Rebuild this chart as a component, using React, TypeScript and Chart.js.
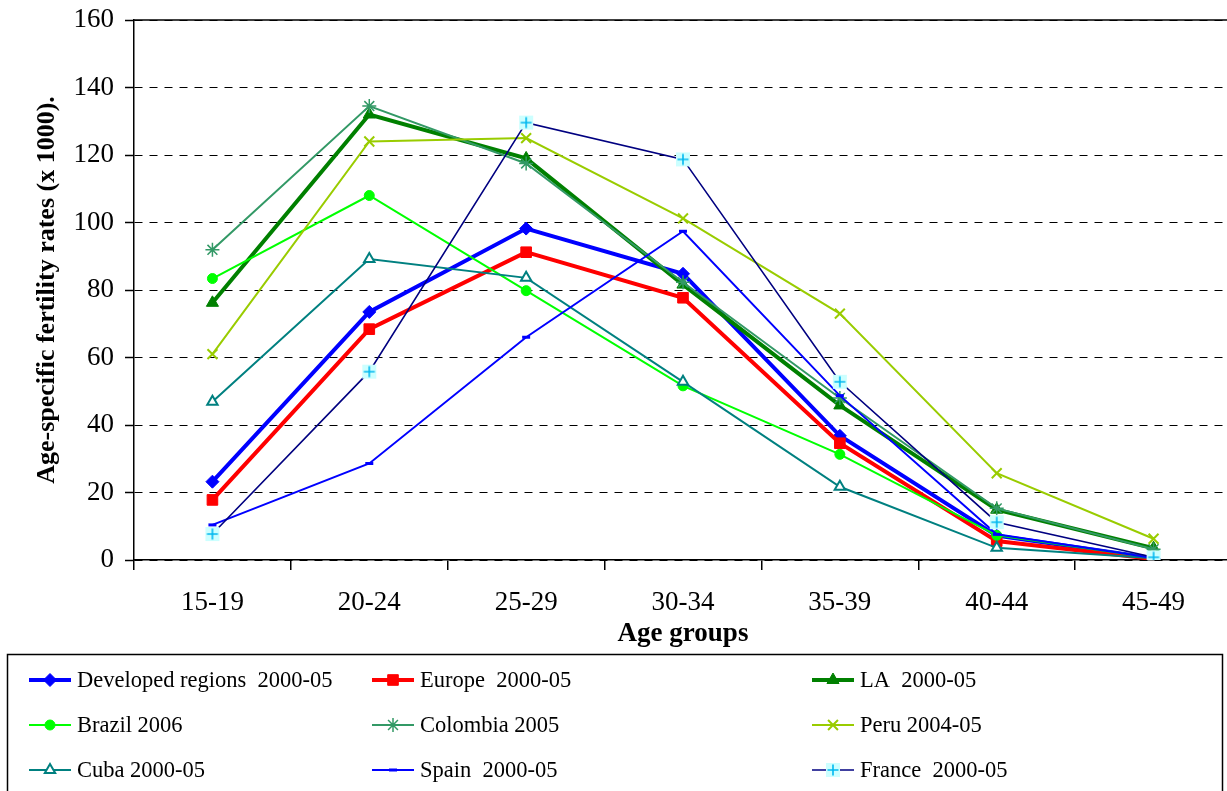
import React, { useEffect, useRef } from 'react';
import { Chart, registerables } from 'chart.js';
import { drawPoint } from 'chart.js/helpers';

Chart.register(...registerables);

const categories = ['15-19', '20-24', '25-29', '30-34', '35-39', '40-44', '45-49'];
const yTicks = [0, 20, 40, 60, 80, 100, 120, 140, 160];

const developed = [23.2, 73.5, 98.2, 84.8, 36.8, 7.2, 0.5];
const europe = [17.8, 68.4, 91.2, 77.7, 34.6, 5.6, 0.3];
const la = [76.2, 132.0, 119.0, 81.6, 45.8, 14.9, 3.5];
const brazil = [83.4, 108.0, 79.8, 51.6, 31.3, 7.3, 0.6];
const colombia = [91.9, 134.5, 117.5, 82.3, 48.0, 15.3, 3.2];
const peru = [61.0, 124.0, 125.0, 101.2, 73.0, 25.7, 6.3];
const cuba = [46.9, 89.2, 83.6, 52.8, 21.7, 3.6, 0.5];
const spain = [10.4, 28.6, 66.0, 97.4, 48.7, 7.6, 0.6];
const france = [7.7, 55.8, 129.6, 118.7, 52.8, 11.2, 0.8];

const seriesLabels = [
  'Developed regions  2000-05',
  'Europe  2000-05',
  'LA  2000-05',
  'Brazil 2006',
  'Colombia 2005',
  'Peru 2004-05',
  'Cuba 2000-05',
  'Spain  2000-05',
  'France  2000-05',
];

const FONT = "'Liberation Serif', 'Times New Roman', serif";

function makeFranceMarker(): HTMLCanvasElement {
  const c = document.createElement('canvas');
  c.width = 16;
  c.height = 16;
  const g = c.getContext('2d')!;
  g.fillStyle = '#CCFFFF';
  g.fillRect(1, 1, 14, 14);
  g.strokeStyle = '#00B8F0';
  g.lineWidth = 1.6;
  g.beginPath();
  g.moveTo(8, 2.5);
  g.lineTo(8, 13.5);
  g.moveTo(2.5, 8);
  g.lineTo(13.5, 8);
  g.stroke();
  return c;
}

export default function App() {
  const ref = useRef<HTMLCanvasElement>(null);

  useEffect(() => {
    if (!ref.current) return;
    const franceMarker = makeFranceMarker();

    const series = [
      { data: developed, color: '#0000FF', width: 4, style: 'rectRot', radius: 6.5, pbw: 1, fill: '#0000FF' },
      { data: europe, color: '#FF0000', width: 4, style: 'rect', radius: 7.5, pbw: 1, fill: '#FF0000' },
      { data: la, color: '#008000', width: 4, style: 'triangle', radius: 7, pbw: 1, fill: '#008000' },
      { data: brazil, color: '#00FF00', width: 2, style: 'circle', radius: 5, pbw: 1, fill: '#00FF00' },
      { data: colombia, color: '#339966', width: 2, style: 'star', radius: 7, pbw: 1.5, fill: '#339966' },
      { data: peru, color: '#99CC00', width: 2, style: 'crossRot', radius: 7, pbw: 2, fill: '#99CC00' },
      { data: cuba, color: '#008080', width: 2, style: 'triangle', radius: 6, pbw: 2, fill: '#FFFFFF' },
      { data: spain, color: '#0000FF', width: 2, style: 'line', radius: 4, pbw: 3, fill: '#0000FF' },
      { data: france, color: '#000080', width: 1.6, style: franceMarker as any, radius: 8, pbw: 1, fill: '#CCFFFF' },
    ];

    const datasets = series.map((s, i) => ({
      label: seriesLabels[i],
      data: s.data,
      borderColor: s.color,
      backgroundColor: s.fill,
      borderWidth: s.width,
      pointStyle: s.style,
      pointRadius: s.radius,
      pointBorderWidth: s.pbw,
      pointBorderColor: s.color,
      pointBackgroundColor: s.fill,
      tension: 0,
      fill: false,
      order: -i,
    }));

    const extras = {
      id: 'extras',
      afterDraw(chart: any) {
        const ctx = chart.ctx as CanvasRenderingContext2D;
        const area = chart.chartArea;
        ctx.save();
        ctx.strokeStyle = '#000';
        ctx.lineWidth = 1.5;
        ctx.beginPath();
        ctx.moveTo(area.left, area.top);
        ctx.lineTo(area.right, area.top);
        ctx.stroke();

        ctx.lineWidth = 1.5;
        ctx.strokeRect(7.5, 654.5, 1215, 200);

        const cols = [29, 372, 812];
        const rows = [680, 725, 770];
        ctx.font = `22.5px ${FONT}`;
        ctx.textBaseline = 'middle';
        ctx.textAlign = 'left';
        series.forEach((s, i) => {
          const x0 = cols[i % 3];
          const y = rows[Math.floor(i / 3)];
          ctx.strokeStyle = s.color;
          ctx.lineWidth = s.width;
          ctx.setLineDash([]);
          ctx.beginPath();
          ctx.moveTo(x0, y);
          ctx.lineTo(x0 + 42, y);
          ctx.stroke();
          ctx.fillStyle = s.fill;
          ctx.strokeStyle = s.color;
          ctx.lineWidth = s.pbw;
          drawPoint(ctx, { pointStyle: s.style, radius: s.radius, borderWidth: s.pbw, rotation: 0 } as any, x0 + 21, y);
          ctx.fillStyle = '#000';
          ctx.fillText(seriesLabels[i], x0 + 48, y + 1);
        });
        ctx.restore();
      },
    };

    const chart = new Chart(ref.current, {
      type: 'line',
      data: { labels: categories, datasets: datasets as any },
      options: {
        animation: false,
        responsive: false,
        devicePixelRatio: 1,
        layout: { padding: { left: 0, top: 20, right: 1, bottom: 141 } },
        plugins: {
          legend: { display: false },
          tooltip: { enabled: false },
        },
        scales: {
          x: {
            offset: true,
            grid: {
              offset: true,
              drawOnChartArea: false,
              drawTicks: true,
              tickLength: 10,
              color: '#000',
              lineWidth: 1.5,
            },
            border: { display: true, color: '#000', width: 1.5 },
            ticks: {
              color: '#000',
              font: { family: FONT, size: 27 },
              padding: 17,
              maxRotation: 0,
            },
            title: {
              display: true,
              text: 'Age groups',
              color: '#000',
              font: { family: FONT, size: 27, weight: 'bold' },
              padding: { top: 0, bottom: 0 },
            },
            afterFit(scale: any) {
              scale.height = 90;
              scale.paddingLeft = 0;
              scale.paddingRight = 0;
            },
          },
          y: {
            min: 0,
            max: 160,
            afterBuildTicks(scale: any) {
              scale.ticks = yTicks.map((v) => ({ value: v }));
            },
            grid: {
              color: '#000',
              lineWidth: 1,
              drawTicks: true,
              tickLength: 9,
              tickColor: '#000',
              tickWidth: 1.5,
            },
            border: { display: true, color: '#000', width: 1.5, dash: [8, 7] },
            ticks: {
              color: '#000',
              font: { family: FONT, size: 27 },
              padding: 11,
            },
            title: {
              display: true,
              text: 'Age-specific fertility rates (x 1000).',
              color: '#000',
              font: { family: FONT, size: 26, weight: 'bold' },
              padding: { top: 32, bottom: 0 },
            },
            afterFit(scale: any) {
              scale.width = 134;
              scale.paddingTop = 0;
              scale.paddingBottom = 0;
            },
          },
        },
      },
      plugins: [extras],
    });

    return () => chart.destroy();
  }, []);

  return (
    <div style={{ position: 'absolute', left: 0, top: 0, width: 1227, height: 791, overflow: 'hidden', background: '#fff' }}>
      <canvas ref={ref} width={1241} height={791} style={{ display: 'block', width: 1241, height: 791 }} />
    </div>
  );
}
